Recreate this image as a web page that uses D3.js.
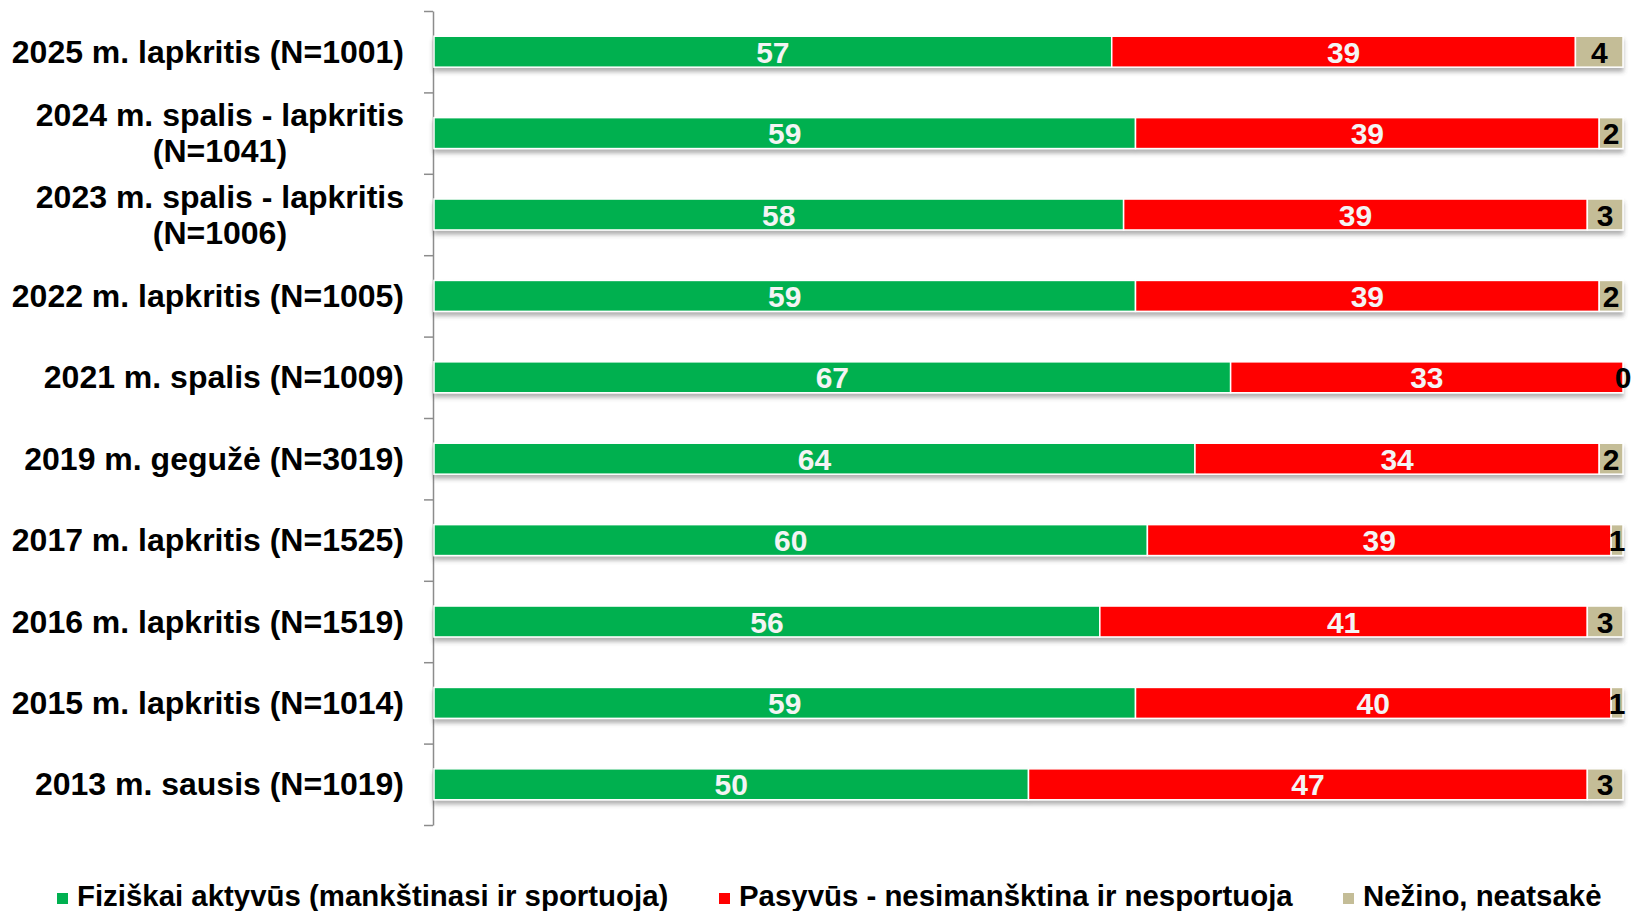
<!doctype html>
<html>
<head>
<meta charset="UTF-8">
<title>Fiziškai aktyvūs</title>
<script src="https://cdn.jsdelivr.net/npm/d3@7"></script>
<style>
  body { margin: 0; background: #fff; }
  svg text { font-family: "Liberation Sans", Arial, sans-serif; font-weight: bold; }
</style>
</head>
<body>
<script>
// data
var categories = [
  "2025 m. lapkritis (N=1001)",
  "2024 m. spalis - lapkritis (N=1041)",
  "2023 m. spalis - lapkritis (N=1006)",
  "2022 m. lapkritis (N=1005)",
  "2021 m. spalis (N=1009)",
  "2019 m. gegužė (N=3019)",
  "2017 m. lapkritis (N=1525)",
  "2016 m. lapkritis (N=1519)",
  "2015 m. lapkritis (N=1014)",
  "2013 m. sausis (N=1019)"
];
var seriesNames = ["Fiziškai aktyvūs (mankštinasi ir sportuoja)", "Pasyvūs - nesimanšktina ir nesportuoja", "Nežino, neatsakė"];
var active  = [57, 59, 58, 59, 67, 64, 60, 56, 59, 50];
var passive = [39, 39, 39, 39, 33, 34, 39, 41, 40, 47];
var unknown = [4, 2, 3, 2, 0, 2, 1, 3, 1, 3];
var colors = ["#00B050", "#FF0000", "#C4BD97"];
var labelColors = ["#f4f4f4", "#f4f4f4", "#000"];

var W = 1633, H = 911;
var svg = d3.select("body").append("svg").attr("width", W).attr("height", H);

var defs = svg.append("defs");
var f = defs.append("filter").attr("id", "shadow").attr("x", "-5%").attr("y", "-30%").attr("width", "110%").attr("height", "180%");
f.append("feDropShadow").attr("dx", 0).attr("dy", 4).attr("stdDeviation", 2)
  .attr("flood-color", "#555").attr("flood-opacity", 0.45);

var rows = categories.map(function(c, i) {
  return { cat: c, a: active[i], p: passive[i], u: unknown[i] };
});
var stack = d3.stack().keys(["a", "p", "u"]);
var layers = stack(rows);

var x = d3.scaleLinear().domain([0, 100]).range([434, 1623]);
var y = d3.scaleBand().domain(categories).range([11, 825]).paddingInner(0.62).paddingOuter(0.31);
var yTicks = d3.scaleLinear().domain([0, categories.length]).range([11, 825]);

// axis
var axis = svg.append("g").attr("transform", "translate(433,0)")
  .call(d3.axisLeft(yTicks).ticks(categories.length).tickSize(9).tickSizeOuter(0).tickFormat(""));
axis.selectAll("path, line").attr("stroke", "#8c8c8c").attr("stroke-width", 1.5);

// bars
var rowG = svg.append("g").selectAll("g.row").data(categories).enter().append("g")
  .attr("class", "row").attr("filter", "url(#shadow)");

rowG.each(function(cat, i) {
  var g = d3.select(this);
  layers.forEach(function(layer, k) {
    var d = layer[i];
    g.append("rect")
      .attr("x", x(d[0]))
      .attr("y", y(cat))
      .attr("width", Math.max(0, x(d[1]) - x(d[0])))
      .attr("height", y.bandwidth())
      .attr("fill", colors[k])
      .attr("stroke", "#fff")
      .attr("stroke-width", d[1] > d[0] ? 1.5 : 0);
  });
});

// value labels
layers.forEach(function(layer, k) {
  svg.append("g").selectAll("text").data(layer).enter().append("text")
    .attr("x", function(d) { return (x(d[0]) + x(d[1])) / 2; })
    .attr("y", function(d, i) { return y(categories[i]) + y.bandwidth() / 2 + 11; })
    .attr("text-anchor", "middle")
    .attr("font-size", 30)
    .attr("fill", labelColors[k])
    .text(function(d) { return d[1] - d[0]; });
});

// category labels
var catG = svg.append("g");
categories.forEach(function(cat) {
  var cy = y(cat) + y.bandwidth() / 2;
  var t = catG.append("text").attr("font-size", 32).attr("fill", "#000")
    .attr("text-anchor", "end").attr("x", 404).attr("y", cy + 11).text(cat);
  if (t.node().getComputedTextLength() > 410) {
    var idx = cat.indexOf(" (");
    var l1 = cat.slice(0, idx), l2 = cat.slice(idx + 1);
    t.remove();
    var a = catG.append("text").attr("font-size", 32).attr("text-anchor", "end")
      .attr("x", 404).attr("y", cy - 7).text(l1);
    var w1 = a.node().getComputedTextLength();
    catG.append("text").attr("font-size", 32).attr("text-anchor", "middle")
      .attr("x", 404 - w1 / 2).attr("y", cy + 29).text(l2);
  }
});

// legend
var legendX = [57, 719, 1343];
var lg = svg.append("g").selectAll("g").data(seriesNames).enter().append("g")
  .attr("transform", function(d, i) { return "translate(" + legendX[i] + ",0)"; });
lg.append("rect").attr("x", 0).attr("y", 893).attr("width", 11).attr("height", 11)
  .attr("fill", function(d, i) { return colors[i]; });
lg.append("text").attr("x", 20).attr("y", 906).attr("font-size", 29.4).attr("fill", "#000")
  .text(function(d) { return d; });
</script>
</body>
</html>
